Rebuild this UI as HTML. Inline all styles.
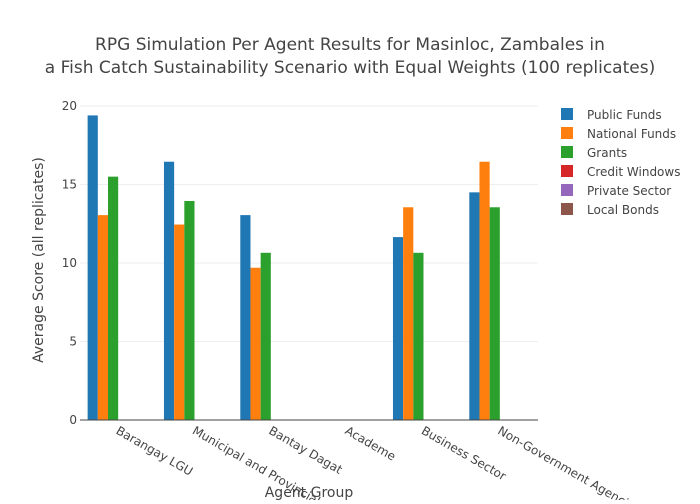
<!DOCTYPE html>
<html><head><meta charset="utf-8"><style>
body{margin:0;background:#fff;font-family:"DejaVu Sans","Liberation Sans",sans-serif;}
svg text{font-family:"DejaVu Sans","Liberation Sans",sans-serif;}
</style></head><body>
<svg id="chart" width="700" height="500">
<text x="350" y="50" text-anchor="middle" font-size="17" fill="#444">RPG Simulation Per Agent Results for Masinloc, Zambales in</text>
<text x="350" y="73" text-anchor="middle" font-size="17" fill="#444">a Fish Catch Sustainability Scenario with Equal Weights (100 replicates)</text>
<g id="grid"></g><g id="bars"></g><g id="axes"></g><g id="legend"></g>
<text x="309" y="497" text-anchor="middle" font-size="14" fill="#444">Agent Group</text>
<text transform="translate(43,260) rotate(-90)" text-anchor="middle" font-size="14" fill="#444">Average Score (all replicates)</text>
</svg>
<script>
const categories=["Barangay LGU","Municipal and Provincial LGU","Bantay Dagat","Academe","Business Sector","Non-Government Agencies"];
const seriesNames=["Public Funds","National Funds","Grants","Credit Windows","Private Sector","Local Bonds"];
const colors=["#1f77b4","#ff7f0e","#2ca02c","#d62728","#9467bd","#8c564b"];
const publicFunds=[19.4,16.45,13.05,0,11.65,14.5];
const nationalFunds=[13.05,12.45,9.7,0,13.55,16.45];
const grants=[15.5,13.95,10.65,0,10.65,13.55];
const creditWindows=[0,0,0,0,0,0];
const privateSector=[0,0,0,0,0,0];
const localBonds=[0,0,0,0,0,0];
const yTicks=[0,5,10,15,20];
const series=[publicFunds,nationalFunds,grants,creditWindows,privateSector,localBonds];
const NS="http://www.w3.org/2000/svg";
const X0=80,X1=538,Y0=420,Y1=106,YMAX=20;
const y=v=>Y0-(v/YMAX)*(Y0-Y1);
const bandW=(X1-X0)/categories.length;
const xc=i=>X0+bandW*(i+0.5);
const barW=bandW*0.8/series.length;
function mk(t,a,p){const e=document.createElementNS(NS,t);for(const k in a)e.setAttribute(k,a[k]);p.appendChild(e);return e;}
const grid=document.getElementById('grid'),bars=document.getElementById('bars'),axes=document.getElementById('axes'),legend=document.getElementById('legend');
yTicks.forEach(t=>{
 if(t>0){const l=mk('line',{x1:X0,x2:X1,y1:y(t),y2:y(t),stroke:'#eee','stroke-width':1},grid);
 
 }
 const tx=mk('text',{x:X0-3,y:y(t)+4,'text-anchor':'end','font-size':12,fill:'#444'},axes);tx.textContent=t;
 
 
});
series.forEach((s,si)=>{s.forEach((v,ci)=>{
 const x=xc(ci)-bandW*0.4+si*barW;
 const r=mk('rect',{x:x,y:y(v),width:barW,height:Y0-y(v),fill:colors[si]},bars);
 
 
});});
const ax=mk('line',{x1:X0,x2:X1,y1:Y0,y2:Y0,stroke:'#444','stroke-width':1},axes);


categories.forEach((c,i)=>{
 const t=mk('text',{transform:`translate(${xc(i)-3},${Y0+13}) rotate(30)`,'font-size':12,fill:'#444'},axes);t.textContent=c;
 
 
});
seriesNames.forEach((n,i)=>{
 const g=mk('g',{},legend);
 
 
 mk('rect',{x:561,y:108+i*19,width:12,height:12,fill:colors[i]},g);
 const t=mk('text',{x:587,y:119+i*19,'font-size':12,fill:'#444'},g);t.textContent=n;
});
</script>
</body></html>
